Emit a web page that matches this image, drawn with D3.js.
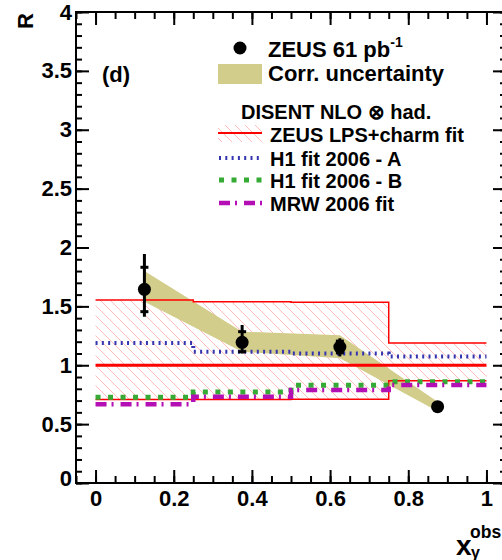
<!DOCTYPE html>
<html><head><meta charset="utf-8">
<script src="https://cdn.jsdelivr.net/npm/d3@7"></script>
<style>
html,body{margin:0;padding:0;background:#fff;}
svg{display:block;font-family:"Liberation Sans",Arial,Helvetica,sans-serif;font-weight:bold;}
</style></head>
<body><svg id="c" width="502" height="560"></svg>
<script>
// ---- data ----
const binEdges = [0, 0.25, 0.5, 0.75, 1];
const binCenters = [0.125, 0.375, 0.625, 0.875];
const zeusR = [1.645, 1.195, 1.155, 0.648];
const statUp = [0.187, 0.09, 0.05, 0.02];
const statDn = [0.19, 0.08, 0.05, 0.02];
const totUp = [0.30, 0.147, 0.074, 0.03];
const totDn = [0.233, 0.095, 0.08, 0.03];
const corrHi = [1.80, 1.285, 1.255, 0.69];
const corrLo = [1.54, 1.115, 1.06, 0.61];
const lpsCentral = [1, 1, 1, 1];
const lpsHi = [1.555, 1.54, 1.535, 1.19];
const lpsLo = [0.71, 0.71, 0.712, 0.868];
const h1A = [1.19, 1.115, 1.10, 1.075];
const h1B = [0.728, 0.772, 0.83, 0.86];
const mrw = [0.668, 0.733, 0.79, 0.832];
const xMajorTicks = [0, 0.2, 0.4, 0.6, 0.8, 1];
const xTickLabels = ["0", "0.2", "0.4", "0.6", "0.8", "1"];
const yMajorTicks = [0, 0.5, 1, 1.5, 2, 2.5, 3, 3.5, 4];
const yTickLabels = ["0", "0.5", "1", "1.5", "2", "2.5", "3", "3.5", "4"];
const legendTexts = ["ZEUS 61 pb", "Corr. uncertainty", "DISENT NLO \u2297 had.",
  "ZEUS LPS+charm fit", "H1 fit 2006 - A", "H1 fit 2006 - B", "MRW 2006 fit"];

// ---- layout ----
const L = 76, R = 506, T = 12, B = 483;
const x = d3.scaleLinear().domain([-0.05, 1.05]).range([L, R]);
const y = d3.scaleLinear().domain([0, 4]).range([B, T]);
const svg = d3.select("#c");

const defs = svg.append("defs");
const pat = defs.append("pattern").attr("id", "hatch").attr("patternUnits", "userSpaceOnUse")
  .attr("width", 10).attr("height", 10);
pat.append("path").attr("d", "M0,0 L10,10 M-1,9 L1,11 M9,-1 L11,1")
  .attr("stroke", "#ffb4b4").attr("stroke-width", 0.9);
defs.append("clipPath").attr("id", "clip").append("rect")
  .attr("x", L).attr("y", T).attr("width", R - L).attr("height", B - T);

const g = svg.append("g").attr("clip-path", "url(#clip)");
const stepPts = v => binEdges.map((e, i) => [e, v[Math.min(i, v.length - 1)]]);
const stepLine = d3.line().x(d => x(d[0])).y(d => y(d[1])).curve(d3.curveStepAfter);

// hatched LPS band
const areaStep = d3.area().x(d => x(d[0])).y0(d => y(d[1])).y1(d => y(d[2])).curve(d3.curveStepAfter);
const bandPts = binEdges.map((e, i) => [e, lpsLo[Math.min(i, 3)], lpsHi[Math.min(i, 3)]]);
g.append("path").attr("d", areaStep(bandPts)).attr("fill", "url(#hatch)");

// correlated uncertainty band
const corrArea = d3.area().x((d, i) => x(binCenters[i])).y0((d, i) => y(corrLo[i])).y1((d, i) => y(corrHi[i]));
g.append("path").attr("d", corrArea(binCenters)).attr("fill", "#d3cd8b");

// LPS lines
g.append("path").attr("d", stepLine(stepPts(lpsHi))).attr("fill", "none").attr("stroke", "#ff0000").attr("stroke-width", 1.5);
g.append("path").attr("d", stepLine(stepPts(lpsLo))).attr("fill", "none").attr("stroke", "#ff0000").attr("stroke-width", 1.5);
g.append("path").attr("d", stepLine(stepPts(lpsCentral))).attr("fill", "none").attr("stroke", "#ff0000").attr("stroke-width", 3);

// H1 A, H1 B, MRW
g.append("path").attr("d", stepLine(stepPts(h1A))).attr("fill", "none").attr("stroke", "#3535b0")
  .attr("stroke-width", 4).attr("stroke-dasharray", "2,4.3");
g.append("path").attr("d", stepLine(stepPts(h1B))).attr("fill", "none").attr("stroke", "#35aa35")
  .attr("stroke-width", 5).attr("stroke-dasharray", "5,7.5");
g.append("path").attr("d", stepLine(stepPts(mrw))).attr("fill", "none").attr("stroke", "#b40fb4")
  .attr("stroke-width", 4.5).attr("stroke-dasharray", "11,5,2,7");

// ZEUS points
const pts = g.append("g");
binCenters.forEach((c, i) => {
  pts.append("line").attr("x1", x(c)).attr("x2", x(c))
    .attr("y1", y(zeusR[i] - totDn[i])).attr("y2", y(zeusR[i] + totUp[i]))
    .attr("stroke", "#000").attr("stroke-width", 3);
  [zeusR[i] + statUp[i], zeusR[i] - statDn[i]].forEach(v => {
    pts.append("line").attr("x1", x(c) - 4).attr("x2", x(c) + 4).attr("y1", y(v)).attr("y2", y(v))
      .attr("stroke", "#000").attr("stroke-width", 3);
  });
  pts.append("circle").attr("cx", x(c)).attr("cy", y(zeusR[i])).attr("r", 6.5).attr("fill", "#000");
});

// ---- axes ----
const fmtX = d => xTickLabels[xMajorTicks.indexOf(d)];
const fmtY = d => yTickLabels[yMajorTicks.indexOf(d)];
const xMinor = d3.range(-0.05, 1.051, 0.05).map(v => +v.toFixed(2)).filter(v => v >= -0.05 && v <= 1.05);
const yMinor = d3.range(0, 4.001, 0.1).map(v => +v.toFixed(1));
function styleAxis(sel) {
  sel.select(".domain").remove();
  sel.selectAll("line").attr("stroke", "#000").attr("stroke-width", 2);
  sel.selectAll("text").attr("font-size", 22).attr("font-weight", "bold")
    .attr("font-family", "'Liberation Sans',Arial,sans-serif").attr("fill", "#000");
}
// bottom
svg.append("g").attr("transform", `translate(0,${B})`)
  .call(d3.axisBottom(x).tickValues(xMinor).tickSizeInner(-7).tickSizeOuter(0).tickFormat("")).call(styleAxis);
svg.append("g").attr("transform", `translate(0,${B})`)
  .call(d3.axisBottom(x).tickValues(xMajorTicks).tickSizeInner(-13).tickSizeOuter(0).tickPadding(7).tickFormat(fmtX)).call(styleAxis);
// top
svg.append("g").attr("transform", `translate(0,${T})`)
  .call(d3.axisTop(x).tickValues(xMinor).tickSizeInner(-7).tickSizeOuter(0).tickFormat("")).call(styleAxis);
svg.append("g").attr("transform", `translate(0,${T})`)
  .call(d3.axisTop(x).tickValues(xMajorTicks).tickSizeInner(-13).tickSizeOuter(0).tickFormat("")).call(styleAxis);
// left
svg.append("g").attr("transform", `translate(${L},0)`)
  .call(d3.axisLeft(y).tickValues(yMinor).tickSizeInner(-6).tickSizeOuter(0).tickFormat("")).call(styleAxis);
const yl = svg.append("g").attr("transform", `translate(${L},0)`)
  .call(d3.axisLeft(y).tickValues(yMajorTicks).tickSizeInner(-13).tickSizeOuter(0).tickPadding(4).tickFormat(fmtY)).call(styleAxis);
yl.selectAll(".tick text").filter(d => d === 0).attr("dy", "0.1em");
// right
svg.append("g").attr("transform", `translate(${R},0)`)
  .call(d3.axisRight(y).tickValues(yMinor).tickSizeInner(-6).tickSizeOuter(0).tickFormat("")).call(styleAxis);
svg.append("g").attr("transform", `translate(${R},0)`)
  .call(d3.axisRight(y).tickValues(yMajorTicks).tickSizeInner(-13).tickSizeOuter(0).tickFormat("")).call(styleAxis);

// frame
svg.append("rect").attr("x", L).attr("y", T).attr("width", R - L).attr("height", B - T)
  .attr("fill", "none").attr("stroke", "#000").attr("stroke-width", 2);

// axis titles
svg.append("text").attr("transform", "translate(33,13) rotate(-90)").attr("text-anchor", "end")
  .attr("font-size", 22).text("R");
svg.append("text").attr("x", 456).attr("y", 555).attr("font-size", 28).text("x");
svg.append("text").attr("x", 470).attr("y", 538).attr("font-size", 17.5).text("obs");
svg.append("text").attr("x", 471).attr("y", 558).attr("font-size", 16).text("\u03b3");

// panel label
svg.append("text").attr("x", 102).attr("y", 82).attr("font-size", 22).text("(d)");

// ---- legend ----
svg.append("circle").attr("cx", 240).attr("cy", 48).attr("r", 6.5).attr("fill", "#000");
const t0 = svg.append("text").attr("x", 268).attr("y", 57).attr("font-size", 22);
t0.append("tspan").text(legendTexts[0]);
t0.append("tspan").attr("font-size", 14).attr("dy", -10).text("-1");
svg.append("rect").attr("x", 218).attr("y", 64).attr("width", 44).attr("height", 20).attr("fill", "#d3cd8b");
svg.append("text").attr("x", 268).attr("y", 81).attr("font-size", 22).text(legendTexts[1]);
svg.append("text").attr("x", 241).attr("y", 119).attr("font-size", 20).text(legendTexts[2]);

const rows = [
  {t: legendTexts[3], yb: 142},
  {t: legendTexts[4], yb: 165.5},
  {t: legendTexts[5], yb: 187.5},
  {t: legendTexts[6], yb: 210.5}
];
rows.forEach(r => svg.append("text").attr("x", 270).attr("y", r.yb).attr("font-size", 20).text(r.t));
svg.append("rect").attr("x", 218).attr("y", 125).attr("width", 44).attr("height", 17).attr("fill", "url(#hatch)");
svg.append("line").attr("x1", 218).attr("x2", 262).attr("y1", 133).attr("y2", 133).attr("stroke", "#ff0000").attr("stroke-width", 2);
svg.append("line").attr("x1", 219).attr("x2", 262).attr("y1", 158).attr("y2", 158).attr("stroke", "#3535b0")
  .attr("stroke-width", 4).attr("stroke-dasharray", "2,4.3");
svg.append("line").attr("x1", 219).attr("x2", 262).attr("y1", 180).attr("y2", 180).attr("stroke", "#35aa35")
  .attr("stroke-width", 5).attr("stroke-dasharray", "5,7.5");
svg.append("line").attr("x1", 219).attr("x2", 262).attr("y1", 203).attr("y2", 203).attr("stroke", "#b40fb4")
  .attr("stroke-width", 4.5).attr("stroke-dasharray", "11,5,2,7");
</script>
</body></html>
